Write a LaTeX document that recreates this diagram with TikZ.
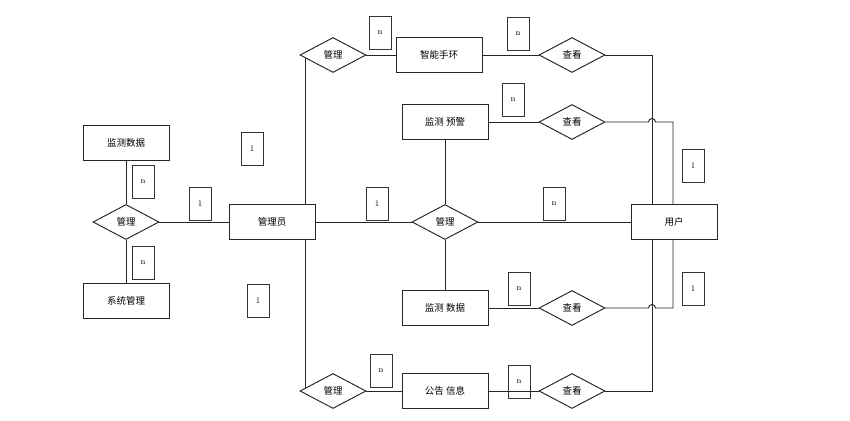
\documentclass[tikz,border=0pt]{standalone}
\usepackage{fontspec}
\newfontfamily\cjk{Noto Sans CJK SC}
\usetikzlibrary{shapes.geometric, calc}

\begin{document}
\begin{tikzpicture}[
        x = 1pt, y = -1pt,
        every node/.style = {font = \cjk\fontsize{9.5}{11}\selectfont},
        entity/.style = {draw = black!85, line width = 0.95pt, fill = white,
                         minimum width = 86pt, minimum height = 35pt, inner sep = 0pt},
        relation/.style = {diamond, draw = black!85, line width = 0.95pt, fill = white,
                           minimum width = 66pt, minimum height = 35pt, inner sep = 0pt},
        card/.style = {draw = black!80, line width = 0.95pt, minimum width = 22pt,
                       minimum height = 33pt, inner sep = 0pt, font = \fontsize{8.5}{9}\selectfont},
        link/.style = {draw = black!85, line width = 0.95pt}
    ]

      \useasboundingbox (0,0) rectangle (850,420);

      % entities and relations
      \node[entity] (data_l) at (126,143) {监测数据};
      \node[relation] (mg_l) at (126,222) {管理};
      \node[entity] (sys) at (126,301) {系统管理};
      \node[entity] (admin) at (272,222) {管理员};

      \node[relation] (mg_t) at (333,55) {管理};
      \node[entity] (band) at (439,55) {智能手环};
      \node[relation] (look_t) at (572,55) {查看};

      \node[entity] (warn) at (445,122) {监测 预警};
      \node[relation] (look_w) at (572,122) {查看};

      \node[relation] (mg_c) at (445,222) {管理};
      \node[entity] (user) at (674,222) {用户};

      \node[entity] (data_r) at (445,308) {监测 数据};
      \node[relation] (look_d) at (572,308) {查看};

      \node[relation] (mg_b) at (333,391) {管理};
      \node[entity] (notice) at (445,391) {公告 信息};
      \node[relation] (look_n) at (572,391) {查看};

      % cardinalities
      \node[card] (c_dl) at (143,182) {n};
      \node[card] (c_sys) at (143,263) {n};
      \node[card] (c_ml) at (200,204) {1};
      \node[card] (c_at) at (252,149) {1};
      \node[card] (c_ab) at (258,301) {1};
      \node[card] (c_mt) at (380,33) {n};
      \node[card] (c_lt) at (518,34) {n};
      \node[card] (c_lw) at (513,100) {n};
      \node[card] (c_ac) at (377,204) {1};
      \node[card] (c_uc) at (554,204) {n};
      \node[card] (c_ld) at (519,289) {n};
      \node[card] (c_ut) at (693,166) {1};
      \node[card] (c_ub) at (693,289) {1};
      \node[card] (c_mb) at (381,371) {n};
      \node[card] (c_ln) at (519,382) {n};

      % lanes
      \coordinate (lane_a) at (652,0);
      \coordinate (lane_b) at (673,0);
      \coordinate (spine_t) at ($(mg_t.west)!0.19!(mg_t.south)$);
      \coordinate (spine_b) at ($(mg_b.west)!0.19!(mg_b.north)$);

      \path[link]
            (data_l) edge (mg_l)
            (mg_l) edge (sys)
            (mg_l) edge (admin)
            (admin) edge (mg_c)
            (mg_c) edge (user)
            (warn) edge (mg_c)
            (mg_c) edge (data_r)
            (mg_t) edge (band)
            (band) edge (look_t)
            (warn) edge (look_w)
            (data_r) edge (look_d)
            (mg_b) edge (notice)
            (notice) edge (look_n);

      \draw[link] (spine_t) -- (spine_t |- admin.north);
      \draw[link] (spine_b |- admin.south) -- (spine_b);

      \draw[link] (look_t) -- (look_t -| lane_a) -- (user.north -| lane_a);
      \draw[link] (look_n) -- (look_n -| lane_a) -- (user.south -| lane_a);
      \draw[link] (look_w) -- ($(look_w -| lane_a)+(-3.5,0)$)
            arc[start angle = 180, end angle = 0, radius = 3.5pt]
            -- (look_w -| lane_b) -- (user.north -| lane_b);
      \draw[link] (look_d) -- ($(look_d -| lane_a)+(-3.5,0)$)
            arc[start angle = 180, end angle = 0, radius = 3.5pt]
            -- (look_d -| lane_b) -- (user.south -| lane_b);

\end{tikzpicture}
\end{document}
